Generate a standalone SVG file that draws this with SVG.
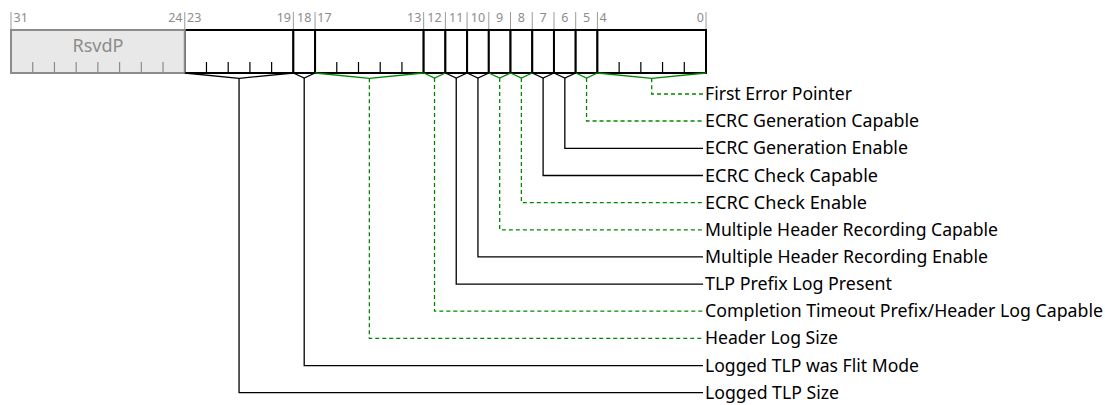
<svg xmlns="http://www.w3.org/2000/svg" width="1105" height="405" viewBox="0 0 1105 405">
<style>
.bg{fill:#fff}
.fld{fill:#fff;stroke:#000;stroke-width:2}
.rsv{fill:#e8e8e8;stroke:#8c8c8c;stroke-width:2}
.tk{stroke:#000;stroke-width:1.2}
.tkg{stroke:#8c8c8c;stroke-width:1.2}
.bl{stroke:#9a9a9a;stroke-width:1}
.bn{font-family:"Noto Sans","Liberation Sans",sans-serif;font-size:12.5px;fill:#8c8c8c}
.rt{font-family:"Noto Sans","Liberation Sans",sans-serif;font-size:18px;fill:#8c8c8c}
.lb{font-family:"Noto Sans","Liberation Sans",sans-serif;font-size:17.5px;fill:#000}
.cb{fill:none;stroke:#000;stroke-width:1.3}
.cg{fill:none;stroke:#008800;stroke-width:1.3;stroke-dasharray:4 3}
.vb{fill:none;stroke:#000;stroke-width:1.3}
.vg{fill:none;stroke:#008800;stroke-width:1.3}
</style>
<rect class="bg" x="0" y="0" width="1105" height="405"/>

<g id="bit-labels">
<line class="bl" x1="11" y1="12" x2="11" y2="30"/>
<line class="bl" x1="184.75" y1="12" x2="184.75" y2="30"/>
<line class="bl" x1="293.34" y1="12" x2="293.34" y2="30"/>
<line class="bl" x1="315.06" y1="12" x2="315.06" y2="30"/>
<line class="bl" x1="423.66" y1="12" x2="423.66" y2="30"/>
<line class="bl" x1="445.38" y1="12" x2="445.38" y2="30"/>
<line class="bl" x1="467.09" y1="12" x2="467.09" y2="30"/>
<line class="bl" x1="488.81" y1="12" x2="488.81" y2="30"/>
<line class="bl" x1="510.53" y1="12" x2="510.53" y2="30"/>
<line class="bl" x1="532.25" y1="12" x2="532.25" y2="30"/>
<line class="bl" x1="553.97" y1="12" x2="553.97" y2="30"/>
<line class="bl" x1="575.69" y1="12" x2="575.69" y2="30"/>
<line class="bl" x1="597.41" y1="12" x2="597.41" y2="30"/>
<line class="bl" x1="706" y1="12" x2="706" y2="30"/>
<text class="bn" x="13.5" y="21.5">31</text>
<text class="bn" x="182.5" y="21.5" text-anchor="end">24</text>
<text class="bn" x="187" y="21.5">23</text>
<text class="bn" x="291" y="21.5" text-anchor="end">19</text>
<text class="bn" x="304.2" y="21.5" text-anchor="middle">18</text>
<text class="bn" x="317.3" y="21.5">17</text>
<text class="bn" x="421.4" y="21.5" text-anchor="end">13</text>
<text class="bn" x="434.5" y="21.5" text-anchor="middle">12</text>
<text class="bn" x="456.2" y="21.5" text-anchor="middle">11</text>
<text class="bn" x="478" y="21.5" text-anchor="middle">10</text>
<text class="bn" x="499.7" y="21.5" text-anchor="middle">9</text>
<text class="bn" x="521.4" y="21.5" text-anchor="middle">8</text>
<text class="bn" x="543.1" y="21.5" text-anchor="middle">7</text>
<text class="bn" x="564.8" y="21.5" text-anchor="middle">6</text>
<text class="bn" x="586.5" y="21.5" text-anchor="middle">5</text>
<text class="bn" x="599.6" y="21.5">4</text>
<text class="bn" x="703.8" y="21.5" text-anchor="end">0</text>
</g>

<g id="field-23-19">
<rect class="fld" x="184.75" y="30" width="108.59" height="43"/>
<path class="tk" d="M206.47 62V73M228.19 62V73M249.91 62V73M271.63 62V73"/>
</g>
<g id="field-18"><rect class="fld" x="293.34" y="30" width="21.72" height="43"/></g>
<g id="field-17-13">
<rect class="fld" x="315.06" y="30" width="108.6" height="43"/>
<path class="tk" d="M336.78 62V73M358.5 62V73M380.22 62V73M401.94 62V73"/>
</g>
<g id="field-12"><rect class="fld" x="423.66" y="30" width="21.72" height="43"/></g>
<g id="field-11"><rect class="fld" x="445.38" y="30" width="21.71" height="43"/></g>
<g id="field-10"><rect class="fld" x="467.09" y="30" width="21.72" height="43"/></g>
<g id="field-9"><rect class="fld" x="488.81" y="30" width="21.72" height="43"/></g>
<g id="field-8"><rect class="fld" x="510.53" y="30" width="21.72" height="43"/></g>
<g id="field-7"><rect class="fld" x="532.25" y="30" width="21.72" height="43"/></g>
<g id="field-6"><rect class="fld" x="553.97" y="30" width="21.72" height="43"/></g>
<g id="field-5"><rect class="fld" x="575.69" y="30" width="21.72" height="43"/></g>
<g id="field-4-0">
<rect class="fld" x="597.41" y="30" width="108.59" height="43"/>
<path class="tk" d="M619.13 62V73M640.84 62V73M662.56 62V73M684.28 62V73"/>
</g>
<g id="field-rsvdp">
<rect class="rsv" x="11" y="30" width="173.75" height="43"/>
<path class="tkg" d="M32.72 62V73M54.44 62V73M76.16 62V73M97.88 62V73M119.59 62V73M141.31 62V73M163.03 62V73"/>
<text class="rt" x="97.9" y="52.3" text-anchor="middle">RsvdP</text>
</g>

<g id="connectors">
<polyline class="vg" points="597.41,73 651.7,78.3 706,73"/>
<polyline class="vg" points="575.69,73 586.55,78 597.41,73"/>
<polyline class="vb" points="553.97,73 564.83,78 575.69,73"/>
<polyline class="vb" points="532.25,73 543.11,78 553.97,73"/>
<polyline class="vg" points="510.53,73 521.39,78 532.25,73"/>
<polyline class="vg" points="488.81,73 499.67,78 510.53,73"/>
<polyline class="vb" points="467.09,73 477.95,78 488.81,73"/>
<polyline class="vb" points="445.38,73 456.23,78 467.09,73"/>
<polyline class="vg" points="423.66,73 434.52,78 445.38,73"/>
<polyline class="vg" points="315.06,73 369.36,78.3 423.66,73"/>
<polyline class="vb" points="293.34,73 304.2,78 315.06,73"/>
<polyline class="vb" points="184.75,73 239.05,78.3 293.34,73"/>

<polyline class="cg" points="651.7,78.3 651.7,94 703,94"/>
<polyline class="cg" points="586.55,78 586.55,121 703,121"/>
<polyline class="cb" points="564.83,78 564.83,148.3 703,148.3"/>
<polyline class="cb" points="543.11,78 543.11,175.5 703,175.5"/>
<polyline class="cg" points="521.39,78 521.39,202.6 703,202.6"/>
<polyline class="cg" points="499.67,78 499.67,229.8 703,229.8"/>
<polyline class="cb" points="477.95,78 477.95,256.9 703,256.9"/>
<polyline class="cb" points="456.23,78 456.23,284.1 703,284.1"/>
<polyline class="cg" points="434.52,78 434.52,311.2 703,311.2"/>
<polyline class="cg" points="369.36,78.3 369.36,338.4 703,338.4"/>
<polyline class="cb" points="304.2,78 304.2,365.6 703,365.6"/>
<polyline class="cb" points="239.05,78.3 239.05,392.7 703,392.7"/>
</g>

<g id="label-first-error-pointer"><text class="lb" x="705" y="100" textLength="147" lengthAdjust="spacingAndGlyphs">First Error Pointer</text></g>
<g id="label-ecrc-gen-capable"><text class="lb" x="705" y="127.1" textLength="214" lengthAdjust="spacingAndGlyphs">ECRC Generation Capable</text></g>
<g id="label-ecrc-gen-enable"><text class="lb" x="705" y="154.3" textLength="203" lengthAdjust="spacingAndGlyphs">ECRC Generation Enable</text></g>
<g id="label-ecrc-check-capable"><text class="lb" x="705" y="181.5" textLength="173" lengthAdjust="spacingAndGlyphs">ECRC Check Capable</text></g>
<g id="label-ecrc-check-enable"><text class="lb" x="705" y="208.6" textLength="162" lengthAdjust="spacingAndGlyphs">ECRC Check Enable</text></g>
<g id="label-mhr-capable"><text class="lb" x="705" y="235.8" textLength="293" lengthAdjust="spacingAndGlyphs">Multiple Header Recording Capable</text></g>
<g id="label-mhr-enable"><text class="lb" x="705" y="262.9" textLength="283" lengthAdjust="spacingAndGlyphs">Multiple Header Recording Enable</text></g>
<g id="label-tlp-prefix"><text class="lb" x="705" y="290.1" textLength="187" lengthAdjust="spacingAndGlyphs">TLP Prefix Log Present</text></g>
<g id="label-completion-timeout"><text class="lb" x="705" y="317.2" textLength="398" lengthAdjust="spacingAndGlyphs">Completion Timeout Prefix/Header Log Capable</text></g>
<g id="label-header-log-size"><text class="lb" x="705" y="344.4" textLength="133" lengthAdjust="spacingAndGlyphs">Header Log Size</text></g>
<g id="label-flit-mode"><text class="lb" x="705" y="371.6" textLength="214" lengthAdjust="spacingAndGlyphs">Logged TLP was Flit Mode</text></g>
<g id="label-logged-tlp-size"><text class="lb" x="705" y="398.7" textLength="134" lengthAdjust="spacingAndGlyphs">Logged TLP Size</text></g>
</svg>
